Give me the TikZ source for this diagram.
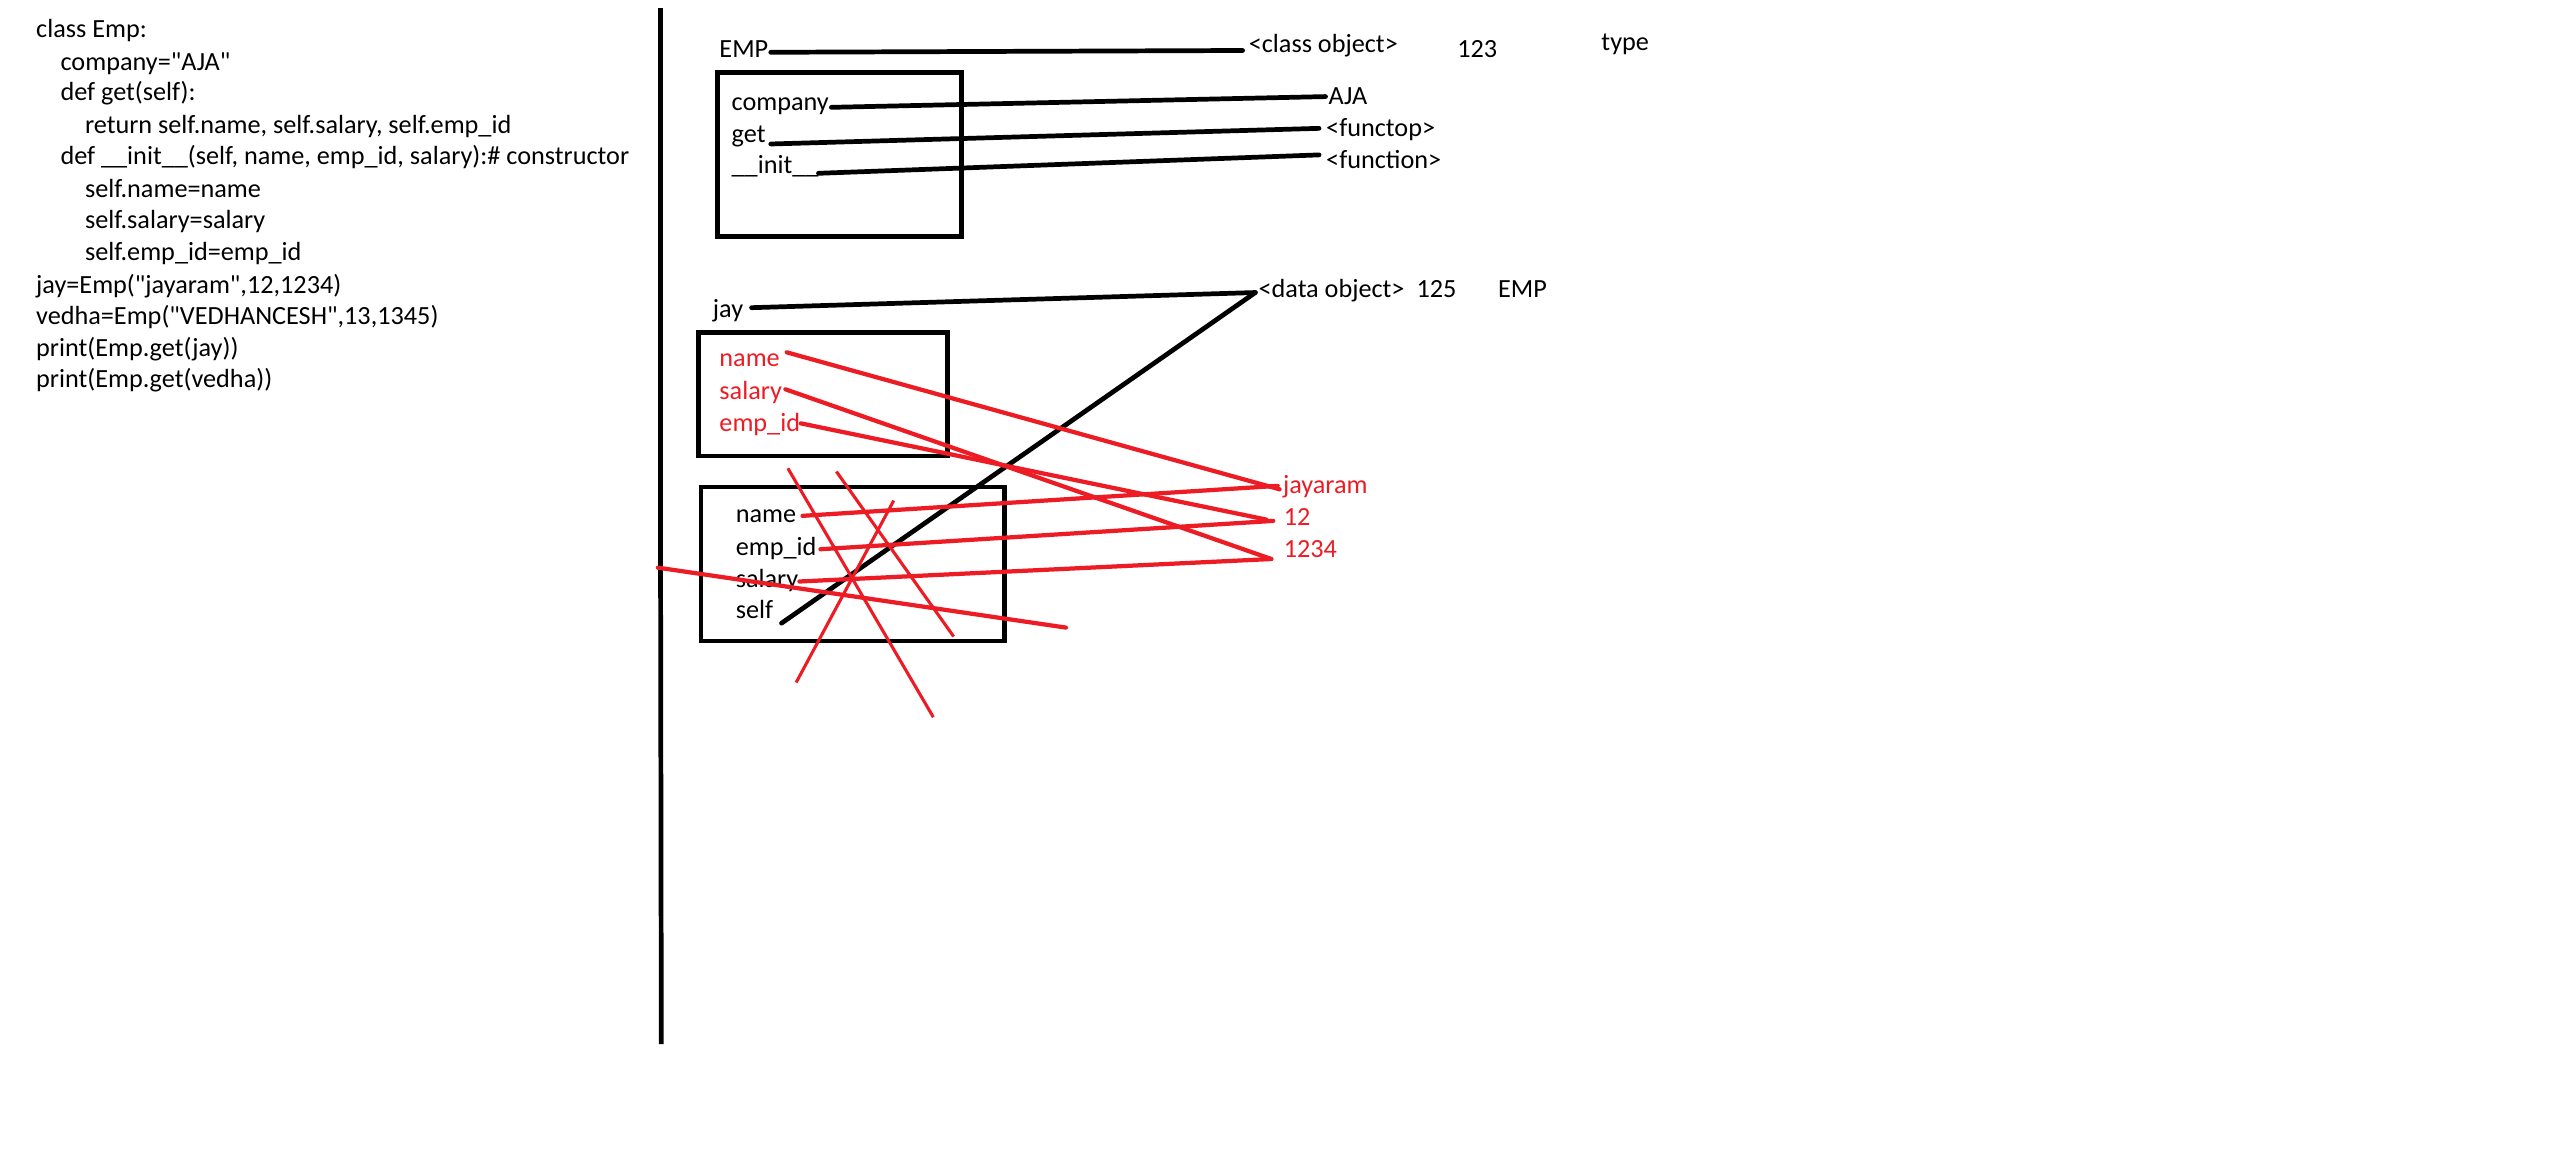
\documentclass[tikz,border=0pt]{standalone}
\usepackage{fontspec}
\newfontfamily\carl{Carlito}
\definecolor{pred}{HTML}{ED1C24}
\begin{document}
\begin{tikzpicture}[x=1pt,y=-1pt,
  txt/.style={font=\carl\fontsize{16.1}{19}\selectfont, anchor=west, inner sep=0pt, text height=11.8pt, text depth=3.8pt},
  rtxt/.style={txt, text=pred},
  bline/.style={line width=2.9pt, line cap=round},
  rline/.style={draw=pred, line width=2.6pt, line cap=round},
  xline/.style={draw=pred, line width=1.9pt},
  box/.style={draw, line width=2.9pt}]
\useasboundingbox[fill=white] (0,0) rectangle (1568,719.5);

% ---- code text ----
\node[txt] (l1) at (22,19) {class Emp:};
\node[txt] (l2) at (37,39) {company="AJA"};
\node[txt] (l3) at (37,58) {def get(self):};
\node[txt] (l4) at (52,78) {return self.name, self.salary, self.emp\_id};
\node[txt] (l5) at (37,97) {def \_\_init\_\_(self, name, emp\_id, salary):\# constructor};
\node[txt] (l6) at (52,117) {self.name=name};
\node[txt] (l7) at (52,136) {self.salary=salary};
\node[txt] (l8) at (52,156) {self.emp\_id=emp\_id};
\node[txt] (l9) at (22,176) {jay=Emp("jayaram",12,1234)};
\node[txt] (l10) at (22,195) {vedha=Emp("VEDHANCESH",13,1345)};
\node[txt] (l11) at (22,215) {print(Emp.get(jay))};
\node[txt] (l12) at (22,234) {print(Emp.get(vedha))};

% ---- divider ----
\coordinate (dv1) at (405.5,5);
\coordinate (dv2) at (405.5,323);
\coordinate (dv3) at (406,641);
\draw[line width=2.9pt] (dv1) -- (dv2);
\draw[line width=2.9pt] (dv2) -- (dv3);

% ---- class object ----
\node[txt] (emp) at (441.5,31.5) {EMP};
\node[txt] (clsobj) at (766.5,28) {<class object>};
\node[txt] (n123) at (894.5,31) {123};
\node[txt] (type) at (983,27) {type};
\coordinate (empA) at (473.2,32.1);
\coordinate (empB) at (762.9,31.0);
\draw[bline] (empA) -- (empB);

\draw[box] (440.5,44.4) rectangle (590.4,145.3);
\node[txt] (company) at (449,64) {company};
\node[txt] (get) at (449,83.5) {get};
\node[txt] (init) at (449,102.5) {\_\_init\_\_};
\node[txt] (aja) at (815.5,60) {AJA};
\node[txt] (functop) at (814,80) {<functop>};
\node[txt] (function) at (814,99.5) {<function>};
\coordinate (coA) at (510.4,65.9);
\coordinate (coB) at (813.8,59.3);
\coordinate (geA) at (473.2,88.4);
\coordinate (geB) at (809.8,78.8);
\coordinate (inA) at (502.5,106.4);
\coordinate (inB) at (809.8,95.1);
\draw[bline] (coA) -- (coB);
\draw[bline] (geA) -- (geB);
\draw[bline] (inA) -- (inB);

% ---- data object ----
\node[txt] (jay) at (437.5,191) {jay};
\node[txt] (dataobj) at (772.5,178.4) {<data object>};
\node[txt] (n125) at (869.5,178.4) {125};
\node[txt] (emp2) at (919.5,178.4) {EMP};
\coordinate (jayA) at (461.4,188.9);
\coordinate (doP) at (770.7,179.6);
\coordinate (selfP) at (479.8,382.6);
\draw[bline] (jayA) -- (doP);
\draw[bline] (doP) -- (selfP);

% box 2
\draw[box] (429,204) rectangle (581.5,280);
\node[rtxt] (rname) at (441.5,221) {name};
\node[rtxt] (rsalary) at (441.5,241) {salary};
\node[rtxt] (rempid) at (441.5,261) {emp\_id};

% values
\node[rtxt] (jayaram) at (787.5,299) {jayaram};
\node[rtxt] (v12) at (788,318.5) {12};
\node[rtxt] (v1234) at (788,338) {1234};

% box 3
\draw[box] (430.4,299) rectangle (616.6,393.5);
\node[txt] (bname) at (451.5,317) {name};
\node[txt] (bempid) at (451.5,337) {emp\_id};
\node[txt] (bsalary) at (451.5,356.5) {salary};
\node[txt] (bself) at (451.5,376) {self};

% red connectors
\coordinate (rnA) at (483,216.3);
\coordinate (jrA) at (785.6,300.4);
\coordinate (rsA) at (482.2,239);
\coordinate (v34A) at (780.5,343.2);
\coordinate (reA) at (491.6,259.9);
\coordinate (v12A) at (777.5,319);
\draw[rline] (rnA) -- (jrA);
\draw[rline] (rsA) -- (v34A);
\draw[rline] (reA) -- (v12A);

\coordinate (bnA) at (492.7,316.7);
\coordinate (jrB) at (784.4,298.3);
\coordinate (beA) at (503.7,337.2);
\coordinate (v12B) at (781.7,319.8);
\coordinate (bsA) at (490.8,357);
\draw[rline] (bnA) -- (jrB);
\draw[rline] (beA) -- (v12B);
\draw[rline] (bsA) -- (v34A);

% red crossing-out strokes
\coordinate (x1a) at (483.7,287.5);
\coordinate (x1b) at (573,440.3);
\coordinate (x2a) at (513.5,289.5);
\coordinate (x2b) at (585.5,390.8);
\coordinate (x3a) at (548.7,307.3);
\coordinate (x3b) at (488.8,419);
\coordinate (x4a) at (403.9,348.5);
\coordinate (x4b) at (654.4,385.3);
\draw[xline] (x1a) -- (x1b);
\draw[xline] (x2a) -- (x2b);
\draw[xline] (x3a) -- (x3b);
\draw[rline] (x4a) -- (x4b);
\end{tikzpicture}
\end{document}
